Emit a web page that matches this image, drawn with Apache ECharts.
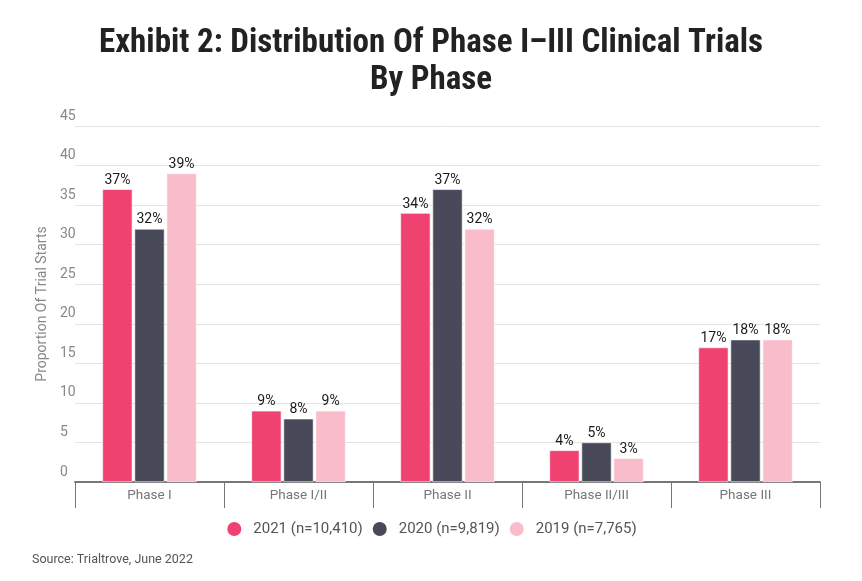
<!DOCTYPE html>
<html>
<head>
<meta charset="utf-8">
<script src="https://cdn.jsdelivr.net/npm/echarts@6/dist/echarts.min.js"></script>
<style>html,body{margin:0;padding:0;background:#fff;}#c{width:862px;height:581px;}</style>
</head>
<body>
<div id="c"></div>
<script>
const categories = ['Phase I', 'Phase I/II', 'Phase II', 'Phase II/III', 'Phase III'];
const seriesNames = ['2021 (n=10,410)', '2020 (n=9,819)', '2019 (n=7,765)'];
const values2021 = [37, 9, 34, 4, 17];
const values2020 = [32, 8, 37, 5, 18];
const values2019 = [39, 9, 32, 3, 18];
const colors = ['#ef4270', '#484a5a', '#f9bccb'];
const yTicks = { min: 0, max: 45, interval: 5 };

const chart = echarts.init(document.getElementById('c'));
const mk = (name, data, color) => ({
  name, type: 'bar', data, barWidth: 30, barGap: '7%',
  itemStyle: { color, borderColor: '#ffffff', borderWidth: 0.6 },
  label: { show: true, position: 'top', distance: 2, formatter: '{c}%', color: '#1a1a1a', fontSize: 14, fontFamily: 'Roboto' }
});
chart.setOption({
  animation: false,
  backgroundColor: '#fff',
  title: {
    text: 'Exhibit 2: Distribution Of Phase I\u2013III Clinical Trials\nBy Phase',
    left: 'center', top: 20,
    textStyle: { fontFamily: '"Roboto Condensed", "Liberation Sans Narrow", Roboto', fontWeight: 'bold', fontSize: 33, lineHeight: 37, color: '#222' }
  },
  legend: {
    bottom: 38, left: 'center', icon: 'circle', itemWidth: 16, itemHeight: 16, itemGap: 8,
    textStyle: { fontFamily: 'Roboto', fontSize: 15, color: '#555', padding: [0, 0, 0, 6] },
    data: seriesNames
  },
  graphic: [{ type: 'text', left: 32, top: 553, style: { text: 'Source: Trialtrove, June 2022', fontFamily: 'Roboto', fontSize: 12.5, fill: '#555' } }],
  grid: { left: 75, right: 42, top: 126, bottom: 99 },
  xAxis: {
    type: 'category', data: categories,
    axisLine: { lineStyle: { color: '#777', width: 2 } },
    axisTick: { show: true, length: 26, lineStyle: { color: '#777', width: 1 } },
    axisLabel: { color: '#777', fontSize: 13.5, fontFamily: 'Roboto', margin: 7 }
  },
  yAxis: {
    type: 'value', min: yTicks.min, max: yTicks.max, interval: yTicks.interval,
    name: 'Proportion Of Trial Starts', nameLocation: 'middle', nameGap: 22,
    nameTextStyle: { color: '#888', fontSize: 14, fontFamily: 'Roboto' },
    axisLine: { show: false }, axisTick: { show: false },
    axisLabel: { align: 'left', margin: 15, verticalAlign: 'bottom', padding: [0, 0, 3, 0], color: '#888', fontSize: 14, fontFamily: 'Roboto' },
    splitLine: { lineStyle: { color: '#e3e3e3', width: 1 } }
  },
  series: [
    mk(seriesNames[0], values2021, colors[0]),
    mk(seriesNames[1], values2020, colors[1]),
    mk(seriesNames[2], values2019, colors[2])
  ]
});
</script>
</body>
</html>
